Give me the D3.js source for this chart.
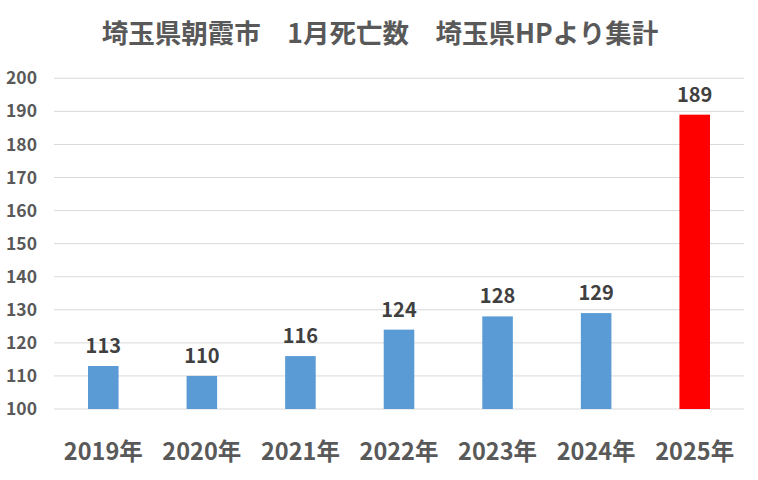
<!DOCTYPE html>
<html><head><meta charset="utf-8">
<script src="https://cdn.jsdelivr.net/npm/d3@7"></script>
<style>
body{margin:0;background:#fff;}
text{font-family:"Noto Sans CJK JP","Noto Sans",sans-serif;font-weight:bold;}
</style></head>
<body><svg id="c" width="758" height="480"></svg>
<script>
const categories = ["2019年","2020年","2021年","2022年","2023年","2024年","2025年"];
const values = [113,110,116,124,128,129,189];
const barColors = ["#5B9BD5","#5B9BD5","#5B9BD5","#5B9BD5","#5B9BD5","#5B9BD5","#FF0000"];
const yTicks = [100,110,120,130,140,150,160,170,180,190,200];
const title = "埼玉県朝霞市　1月死亡数　埼玉県HPより集計";

const svg = d3.select("#c");
const plotL = 54, plotR = 744, plotT = 78.3, plotB = 409;
const x = d3.scaleBand().domain(categories).range([plotL, plotR]).paddingInner(0.69).paddingOuter(0.345);
const y = d3.scaleLinear().domain([100,200]).range([plotB, plotT]);

svg.append("text").attr("x", 380).attr("y", 43).attr("text-anchor","middle")
  .attr("font-size", 26.5).attr("fill","#595959").text(title);

svg.append("g").selectAll("line").data(yTicks).join("line")
  .attr("x1", plotL).attr("x2", plotR)
  .attr("y1", d=>y(d)).attr("y2", d=>y(d))
  .attr("stroke", "#d9d9d9").attr("stroke-width", 1);

svg.append("g").selectAll("text").data(yTicks).join("text")
  .attr("x", 37).attr("y", d=>y(d)).attr("dy","0.35em").attr("text-anchor","end")
  .attr("font-size", 17.5).attr("fill","#595959").text(d=>d);

svg.append("g").selectAll("rect").data(values).join("rect")
  .attr("x", (d,i)=>x(categories[i])).attr("width", x.bandwidth())
  .attr("y", d=>y(d)).attr("height", d=>plotB - y(d))
  .attr("fill", (d,i)=>barColors[i]);

svg.append("g").selectAll("text").data(values).join("text")
  .attr("x", (d,i)=>x(categories[i]) + x.bandwidth()/2).attr("y", d=>y(d) - 13)
  .attr("text-anchor","middle").attr("font-size", 20).attr("fill","#404040").text(d=>d);

svg.append("g").selectAll("text").data(categories).join("text")
  .attr("x", d=>x(d) + x.bandwidth()/2).attr("y", 460)
  .attr("text-anchor","middle").attr("font-size", 23.5).attr("fill","#595959").text(d=>d);
</script></body></html>
